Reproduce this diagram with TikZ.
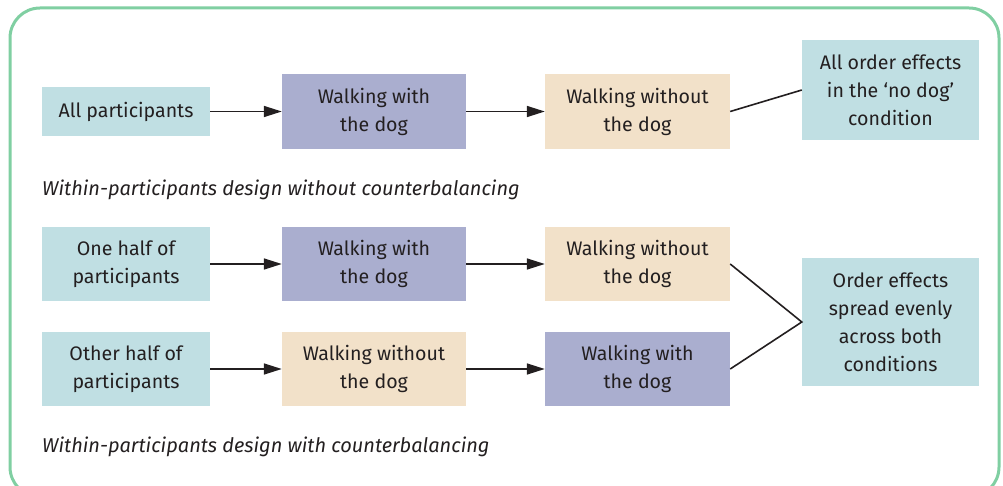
\documentclass[tikz,border=0pt]{standalone}
\usepackage{fontspec}
\setmainfont{Fira Sans}
\usetikzlibrary{arrows.meta}
\definecolor{framegreen}{HTML}{80CFA2}
\definecolor{boxblue}{HTML}{C0DFE3}
\definecolor{boxpurple}{HTML}{AAAECF}
\definecolor{boxbeige}{HTML}{F2E1C9}
\definecolor{inkdark}{HTML}{231F20}
\tikzset{
  cell/.style={inner sep=0pt, align=center, text=inkdark,
    font=\fontsize{19.6}{28}\selectfont},
  blue cell/.style={cell, fill=boxblue},
  purple cell/.style={cell, fill=boxpurple},
  beige cell/.style={cell, fill=boxbeige},
  flow/.style={draw=inkdark, line width=1.6pt, -{Triangle[length=18pt,width=11pt]}},
  linkline/.style={draw=inkdark, line width=1.6pt},
  caption/.style={anchor=west, inner sep=0pt, text=inkdark,
    font=\fontsize{20}{24}\selectfont\itshape},
}
\newcommand{\cellat}[6]{% style, name, x1, y1, x2, y2 ; text follows
  \node[#1, minimum width=#5pt-#3pt, minimum height=#6pt-#4pt]
    (#2) at ({(#3+#5)/2},{(#4+#6)/2})}
\begin{document}
\begin{tikzpicture}[x=1pt,y=-1pt]
  \useasboundingbox (0,0) rectangle (1003,486);
  \clip (0,0) rectangle (1003,486);
  % outer frame
  \draw[framegreen, line width=3pt, rounded corners=30pt]
    (10,8) rectangle (999,497);

  % first design: no counterbalancing
  \cellat{blue cell}{a1}{42}{87}{210}{136} {All participants};
  \cellat{purple cell}{b1}{282}{74}{466}{149} {Walking with\\the dog};
  \cellat{beige cell}{c1}{545}{74}{730}{149} {Walking without\\the dog};
  \cellat{blue cell}{d1}{802}{40}{979}{140} {All order effects\\in the ‘no dog’\\condition};
  \draw[flow] (a1) -- (b1);
  \draw[flow] (b1) -- (c1);
  \draw[linkline] (c1.east) -- (d1.west);
  \node[caption] (cap1) at (42,190) {Within-participants design without counterbalancing};

  % second design: counterbalanced
  \cellat{blue cell}{a2}{42}{227}{210}{301} {One half of\\participants};
  \cellat{purple cell}{b2}{282}{227}{466}{301} {Walking with\\the dog};
  \cellat{beige cell}{c2}{545}{227}{730}{301} {Walking without\\the dog};
  \cellat{blue cell}{a3}{42}{332}{210}{406} {Other half of\\participants};
  \cellat{beige cell}{b3}{282}{332}{466}{406} {Walking without\\the dog};
  \cellat{purple cell}{c3}{545}{332}{730}{406} {Walking with\\the dog};
  \cellat{blue cell}{d2}{802}{258}{979}{386} {Order effects\\spread evenly\\across both\\conditions};
  \draw[flow] (a2) -- (b2);
  \draw[flow] (b2) -- (c2);
  \draw[flow] (a3) -- (b3);
  \draw[flow] (b3) -- (c3);
  \draw[linkline] (c2.east) -- (d2.west) -- (c3.east);
  \node[caption] (cap2) at (42,447) {Within-participants design with counterbalancing};
\end{tikzpicture}
\end{document}
